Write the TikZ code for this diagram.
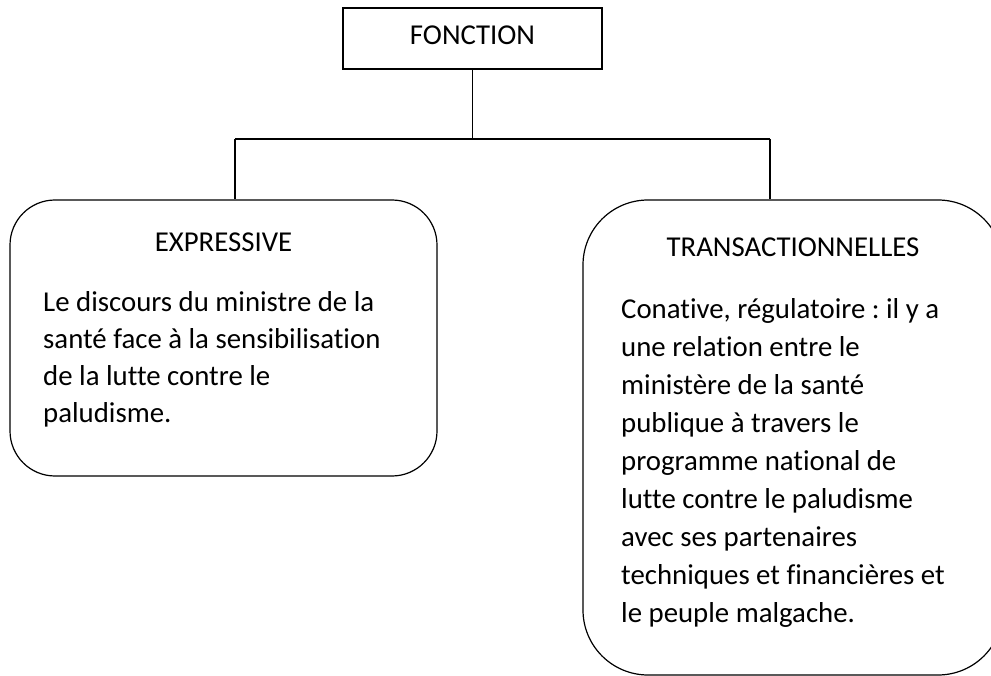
\documentclass[tikz,border=0pt]{standalone}
\usepackage{fontspec}
\setmainfont[Ligatures=NoCommon]{Carlito}
\frenchspacing
\begin{document}
\begin{tikzpicture}[x=1pt,y=-1pt,
  frame/.style={draw=black, line width=1.2pt, inner sep=0pt},
  link/.style={draw=black, line width=1.2pt},
  title/.style={font=\fontsize{28.8}{34}\selectfont, inner sep=0pt, anchor=base},
  body/.style={inner sep=0pt, anchor=base west, align=left},
]
\useasboundingbox (0,0) rectangle (991,676);
\clip (0,0) rectangle (991,676);

% frames
\node[frame, minimum width=259pt, minimum height=61pt] (fonction) at (472.5,38.5) {};
\node[frame, rounded corners=45pt, minimum width=427pt, minimum height=276pt] (expr) at (223.5,338) {};
\node[frame, rounded corners=65pt, minimum width=420pt, minimum height=475pt] (trans) at (793,437.5) {};

% tree connectors
\coordinate (jl) at (235,139);
\coordinate (jr) at (770,139);
\draw[link] (fonction.south) -- (fonction.south |- jl);
\draw[link] (jl) -- (jr);
\draw[link] (jl) -- (jl |- expr.north);
\draw[link] (jr) -- (jr |- trans.north);

% labels
\node[title] (fonctionlbl) at (472.5,45) {FONCTION};
\node[title] (exprlbl) at (223.5,252) {EXPRESSIVE};
\node[title] (translbl) at (793,257) {TRANSACTIONNELLES};

% body texts, placed by the baseline of their last line
\node[body, font=\fontsize{28.8}{37}\selectfont] (exprtext) at (43,422) {Le discours du ministre de la\\santé face à la sensibilisation\\de la lutte contre le\\paludisme.};
\node[body, font=\fontsize{28.8}{38}\selectfont] (transtext) at (621,622) {Conative, régulatoire : il y a\\une relation entre le\\ministère de la santé\\publique à travers le\\programme national de\\lutte contre le paludisme\\avec ses partenaires\\techniques et financières et\\le peuple malgache.};
\end{tikzpicture}
\end{document}
